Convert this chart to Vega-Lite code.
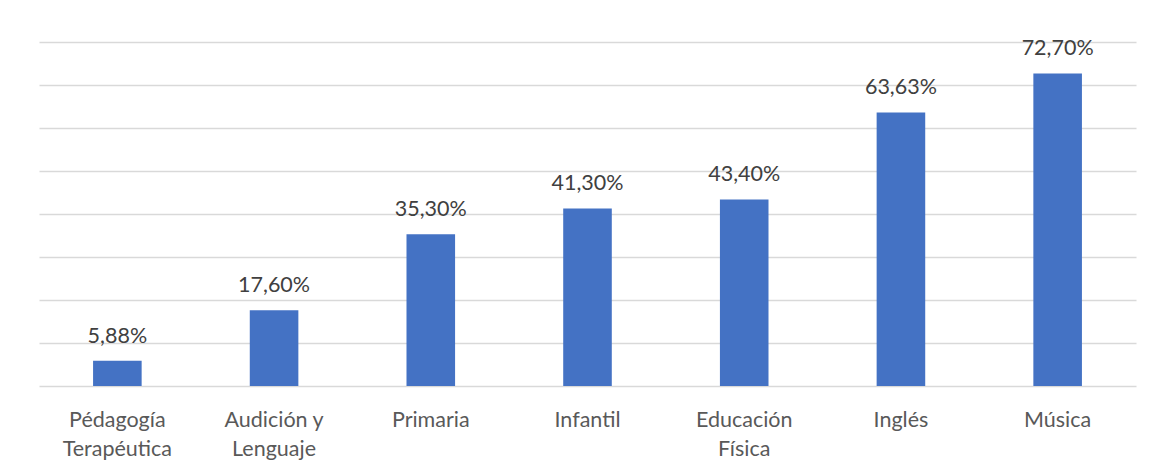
{
  "$schema": "https://vega.github.io/schema/vega-lite/v6.json",
  "autosize": "none",
  "width": 1097,
  "height": 344,
  "padding": {"left": 39, "top": 42, "right": 17, "bottom": 84},
  "background": "white",
  "config": {
    "view": {"stroke": null},
    "locale": {"number": {"decimal": ",", "thousands": ".", "grouping": [3], "currency": ["", " €"]}},
    "font": "Lato"
  },
  "data": {
    "values": [
      {"categoria": "Pédagogía Terapéutica", "valor": 0.0588},
      {"categoria": "Audición y Lenguaje", "valor": 0.176},
      {"categoria": "Primaria", "valor": 0.353},
      {"categoria": "Infantil", "valor": 0.413},
      {"categoria": "Educación Física", "valor": 0.434},
      {"categoria": "Inglés", "valor": 0.6363},
      {"categoria": "Música", "valor": 0.727}
    ]
  },
  "encoding": {
    "x": {
      "field": "categoria",
      "type": "nominal",
      "sort": null,
      "scale": {"paddingInner": 0.69, "paddingOuter": 0.345},
      "axis": {
        "title": null,
        "labelAngle": 0,
        "ticks": false,
        "domain": false,
        "labelColor": "#595959",
        "labelFontSize": 21.5,
        "labelBaseline": "alphabetic",
        "labelPadding": 40,
        "labelLineHeight": 29,
        "labelFont": "Lato",
        "labelExpr": "datum.value == 'Pédagogía Terapéutica' ? ['Pédagogía', 'Terapéutica'] : datum.value == 'Audición y Lenguaje' ? ['Audición y', 'Lenguaje'] : datum.value == 'Educación Física' ? ['Educación', 'Física'] : datum.value"
      }
    },
    "y": {
      "field": "valor",
      "type": "quantitative",
      "scale": {"domain": [0, 0.8], "nice": false},
      "axis": {
        "title": null,
        "labels": false,
        "ticks": false,
        "domain": false,
        "values": [0, 0.1, 0.2, 0.3, 0.4, 0.5, 0.6, 0.7, 0.8],
        "gridColor": "#d9d9d9",
        "gridWidth": 1.5
      }
    }
  },
  "layer": [
    {"mark": {"type": "bar", "color": "#4472C4"}},
    {
      "mark": {"type": "text", "baseline": "alphabetic", "dy": -18, "fontSize": 21.5, "color": "#404040", "font": "Lato"},
      "encoding": {"text": {"field": "valor", "type": "quantitative", "format": ".2%"}}
    }
  ]
}
